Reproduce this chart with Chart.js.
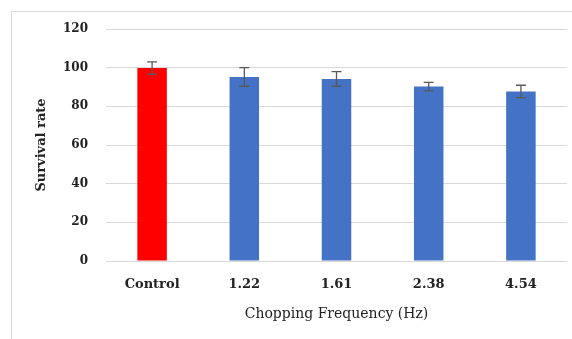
<!DOCTYPE html>
<html>
<head>
<meta charset="utf-8">
<script src="https://cdn.jsdelivr.net/npm/chart.js@4"></script>
<style>
  html, body { margin: 0; padding: 0; background: #fff; }
  #wrap { position: relative; width: 572px; height: 339px; overflow: hidden; }
  #frame { position: absolute; left: 11px; top: 11px; width: 580px; height: 340px; border: 1px solid #d9d9d9; }
  canvas { position: absolute; left: 0; top: 0; }
</style>
</head>
<body>
<div id="wrap">
  <div id="frame"></div>
  <canvas id="grafica" width="572" height="339"></canvas>
</div>
<script>
// datos
const categorias = ['Control', '1.22', '1.61', '2.38', '4.54'];
const supervivencia = [99.8, 95.2, 94.2, 90.2, 87.7];
const errores = [3.2, 4.8, 3.8, 2.2, 3.2];
const colores = ['#ff0000', '#4472c4', '#4472c4', '#4472c4', '#4472c4'];

const fuente = "'DejaVu Serif', 'Liberation Serif', serif";

// barras de error con las escalas del grafico
const barrasError = {
  id: 'barrasError',
  afterDatasetsDraw(chart) {
    const { ctx, scales: { y } } = chart;
    const meta = chart.getDatasetMeta(0);
    ctx.save();
    ctx.strokeStyle = '#595959';
    ctx.lineWidth = 1.3;
    meta.data.forEach((bar, i) => {
      const arriba = y.getPixelForValue(supervivencia[i] + errores[i]);
      const abajo = y.getPixelForValue(supervivencia[i] - errores[i]);
      const cx = bar.x;
      ctx.beginPath();
      ctx.moveTo(cx, arriba); ctx.lineTo(cx, abajo);
      ctx.moveTo(cx - 5, arriba); ctx.lineTo(cx + 5, arriba);
      ctx.moveTo(cx - 5, abajo); ctx.lineTo(cx + 5, abajo);
      ctx.stroke();
    });
    ctx.restore();
  }
};

new Chart(document.getElementById('grafica'), {
  type: 'bar',
  data: {
    labels: categorias,
    datasets: [{
      data: supervivencia,
      backgroundColor: colores,
      barPercentage: 0.32,
      categoryPercentage: 1
    }]
  },
  options: {
    responsive: false,
    animation: false,
    layout: { padding: { left: 34, top: 29, right: 5, bottom: 0 } },
    plugins: { legend: { display: false }, tooltip: { enabled: false } },
    scales: {
      x: {
        grid: { display: false },
        border: { display: false },
        ticks: { color: '#222', font: { family: fuente, size: 13, weight: 'bold' }, padding: 8 },
        title: { display: true, text: 'Chopping Frequency (Hz)', color: '#222', font: { family: fuente, size: 14 }, padding: { top: 4, bottom: 16 } },
        afterFit(scale) { scale.height = 78; }
      },
      y: {
        min: 0, max: 120,
        ticks: { stepSize: 20, color: '#222', font: { family: fuente, size: 12, weight: 'bold' }, padding: 18 },
        grid: { color: '#d9d9d9', drawTicks: false },
        border: { display: false },
        title: { display: true, text: 'Survival rate', color: '#222', font: { family: fuente, size: 13, weight: 'bold' }, padding: 0 },
        afterFit(scale) { scale.width = 72; }
      }
    }
  },
  plugins: [barrasError]
});
</script>
</body>
</html>
